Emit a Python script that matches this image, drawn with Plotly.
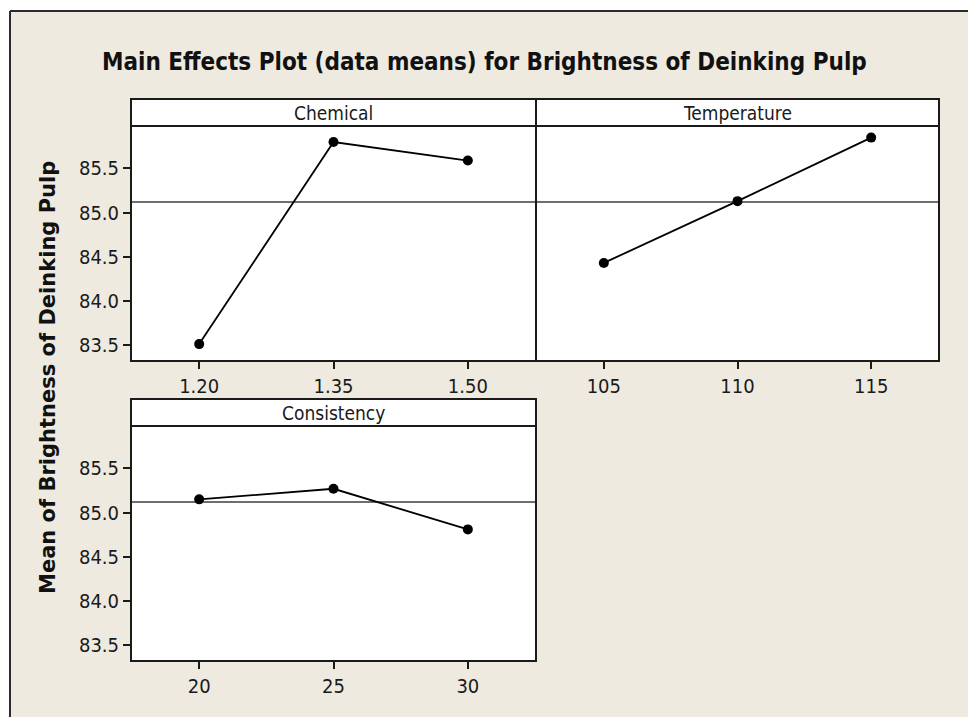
import plotly.graph_objects as go

# The page has an 8px body margin, so the figure is sized to fill the rest of the window
OFF = 8
W, H = 976 - OFF, 717 - OFF

# ---- data ----
chemical_levels = [1.20, 1.35, 1.50]
chemical_means = [83.51, 85.80, 85.59]
temperature_levels = [105, 110, 115]
temperature_means = [84.43, 85.13, 85.85]
consistency_levels = [20, 25, 30]
consistency_means = [85.15, 85.27, 84.81]
grand_mean = 85.12
chemical_ticktext = ["1.20", "1.35", "1.50"]
y_ticks = [83.5, 84.0, 84.5, 85.0, 85.5]
panel_titles = ["Chemical", "Temperature", "Consistency"]
title_text = "Main Effects Plot (data means) for Brightness of Deinking Pulp"
y_title = "Mean of Brightness of Deinking Pulp"


def px(x):
    return (x - OFF) / W


def py(y):
    return 1 - (y - OFF) / H


NARROW = "Liberation Sans Narrow, Arial Narrow, DejaVu Sans Condensed, sans-serif"
BEIGE = "#EEEAE0"

fig = go.Figure()
line_style = dict(color="black", width=1.8)
marker_style = dict(color="black", size=10)
fig.add_trace(go.Scatter(x=chemical_levels, y=chemical_means, mode="lines+markers",
                         line=line_style, marker=marker_style, xaxis="x", yaxis="y"))
fig.add_trace(go.Scatter(x=temperature_levels, y=temperature_means, mode="lines+markers",
                         line=line_style, marker=marker_style, xaxis="x2", yaxis="y2"))
fig.add_trace(go.Scatter(x=consistency_levels, y=consistency_means, mode="lines+markers",
                         line=line_style, marker=marker_style, xaxis="x3", yaxis="y3"))

yr = [83.33, 85.97]
ax_common = dict(showline=True, mirror=True, linecolor="#1a1a1a", linewidth=2,
                 showgrid=False, zeroline=False, ticks="outside", ticklen=7,
                 tickwidth=1.5, tickcolor="#1a1a1a",
                 tickfont=dict(family=NARROW, size=20, color="#1a1a1a"))

top_dom = [py(360), py(127)]
bot_dom = [py(660), py(427)]

fig.update_layout(
    width=W, height=H, autosize=False,
    margin=dict(l=0, r=0, t=0, b=0),
    paper_bgcolor=BEIGE, plot_bgcolor="white",
    showlegend=False,
    xaxis=dict(domain=[px(132), px(535)], range=[1.125, 1.575], anchor="y",
               tickvals=chemical_levels, ticktext=chemical_ticktext, **ax_common),
    yaxis=dict(domain=top_dom, range=yr, anchor="x", tickvals=y_ticks,
               tickformat=".1f", **ax_common),
    xaxis2=dict(domain=[px(537), px(938)], range=[102.5, 117.5], anchor="y2",
                tickvals=temperature_levels, **ax_common),
    yaxis2=dict(domain=top_dom, range=yr, anchor="x2", **{**ax_common, "ticks": ""},
                showticklabels=False),
    xaxis3=dict(domain=[px(132), px(535)], range=[17.5, 32.5], anchor="y3",
                tickvals=consistency_levels, **ax_common),
    yaxis3=dict(domain=bot_dom, range=yr, anchor="x3", tickvals=y_ticks,
                tickformat=".1f", **ax_common),
)

shapes = []
# white outside of the frame
shapes.append(dict(type="rect", xref="paper", yref="paper", x0=-0.05, x1=px(10),
                   y0=-0.05, y1=1.05, fillcolor="white", line=dict(width=0)))
shapes.append(dict(type="rect", xref="paper", yref="paper", x0=-0.05, x1=1.05,
                   y0=py(11), y1=1.05, fillcolor="white", line=dict(width=0)))
# frame lines
shapes.append(dict(type="line", xref="paper", yref="paper", x0=px(10), x1=1.05,
                   y0=py(11), y1=py(11), line=dict(color="#2b2b2b", width=2)))
shapes.append(dict(type="line", xref="paper", yref="paper", x0=px(10), x1=px(10),
                   y0=py(11), y1=-0.05, line=dict(color="#2b2b2b", width=2)))
# strips
strip_boxes = [(131, 536, 99, 126), (536, 939, 99, 126), (131, 536, 399, 426)]
for (x0, x1, y0, y1) in strip_boxes:
    shapes.append(dict(type="rect", xref="paper", yref="paper", x0=px(x0), x1=px(x1),
                       y0=py(y1), y1=py(y0), fillcolor="white",
                       line=dict(color="#1a1a1a", width=2)))
# grand mean reference lines
for xa, ya in [("x", "y"), ("x2", "y2"), ("x3", "y3")]:
    shapes.append(dict(type="line", xref=f"{xa} domain", yref=ya, x0=0, x1=1,
                       y0=grand_mean, y1=grand_mean, layer="below",
                       line=dict(color="#6e6e6e", width=2)))
fig.update_layout(shapes=shapes)

annotations = []
for (x0, x1, y0, y1), t in zip(strip_boxes, panel_titles):
    annotations.append(dict(text=t, xref="paper", yref="paper", x=px((x0 + x1) / 2),
                            y=py((y0 + y1) / 2), showarrow=False, xanchor="center",
                            yanchor="middle",
                            font=dict(family=NARROW, size=19, color="#1a1a1a")))
annotations.append(dict(text=f"<b>{title_text}</b>", xref="paper", yref="paper",
                        x=px(484), y=py(62), showarrow=False, xanchor="center",
                        yanchor="middle",
                        font=dict(family=NARROW, size=24, color="#111111")))
annotations.append(dict(text=f"<b>{y_title}</b>", xref="paper", yref="paper",
                        x=px(48), y=py(378), showarrow=False, textangle=-90,
                        xanchor="center", yanchor="middle",
                        font=dict(family="DejaVu Sans, Verdana, sans-serif", size=21,
                                  color="#111111")))
fig.update_layout(annotations=annotations)

fig.write_html("out.html")
